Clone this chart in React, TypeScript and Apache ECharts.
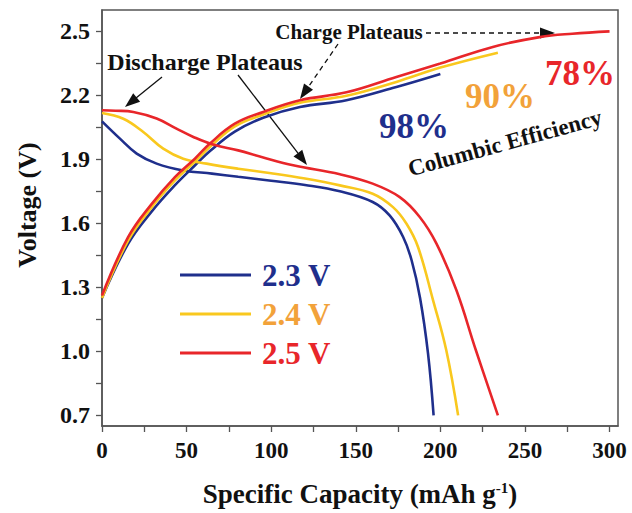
import React, { useEffect, useRef } from "react";
import * as echarts from "echarts";

const xTicks = [0, 25, 50, 75, 100, 125, 150, 175, 200, 225, 250, 275, 300];
const xLabels = [0, 50, 100, 150, 200, 250, 300];
const yTicks = [0.7, 0.85, 1.0, 1.15, 1.3, 1.45, 1.6, 1.75, 1.9, 2.05, 2.2, 2.35, 2.5];
const yLabels = [0.7, 1.0, 1.3, 1.6, 1.9, 2.2, 2.5];

const names = ["2.3 V", "2.4 V", "2.5 V"];
const lineColors = ["#1f2f8c", "#f9c81e", "#e8262a"];
const textColors = ["#1f2f8c", "#f2a23a", "#e8262a"];

const charge23 = [[0, 1.25], [15.5, 1.505], [29.3, 1.655], [43, 1.778], [55, 1.872], [64, 1.94], [78.5, 2.03], [95.3, 2.095], [117, 2.145], [144.5, 2.177], [174, 2.239], [200, 2.3]];
const charge24 = [[0, 1.25], [15.5, 1.52], [29.3, 1.675], [43, 1.8], [55, 1.89], [64, 1.96], [78.5, 2.055], [95.3, 2.11], [117, 2.165], [144.5, 2.198], [174, 2.263], [200, 2.33], [234, 2.4]];
const charge25 = [[0, 1.262], [15.5, 1.536], [29.3, 1.69], [43.1, 1.817], [54.9, 1.903], [63.8, 1.974], [78.5, 2.067], [95.3, 2.122], [117, 2.177], [144.5, 2.214], [174, 2.286], [200, 2.349], [231, 2.427], [258.7, 2.473], [278, 2.489], [300, 2.5]];

const discharge23 = [[0, 2.078], [10.6, 1.997], [20.5, 1.927], [32.3, 1.88], [48, 1.848], [65, 1.833], [80.5, 1.818], [100, 1.8], [120, 1.78], [140.6, 1.75], [160, 1.7], [170, 1.637], [178, 1.536], [183, 1.427], [188, 1.25], [192.7, 0.99], [196, 0.7]];
const discharge24 = [[0, 2.117], [12.6, 2.09], [24.4, 2.028], [36.2, 1.95], [48, 1.903], [61.8, 1.88], [80.5, 1.856], [100, 1.835], [120, 1.81], [140.6, 1.778], [160, 1.739], [172, 1.676], [180, 1.598], [186.8, 1.489], [195.7, 1.239], [203.5, 1.005], [210.5, 0.7]];
const discharge25 = [[0, 2.13], [8, 2.128], [18.5, 2.122], [32.3, 2.091], [44, 2.044], [54, 2.005], [65.7, 1.969], [80.5, 1.942], [94.3, 1.911], [113, 1.872], [140.6, 1.83], [160, 1.786], [176, 1.723], [187.8, 1.63], [197.7, 1.505], [209.5, 1.286], [221, 1.005], [234, 0.7]];

const chargeData = [charge23, charge24, charge25];
const dischargeData = [discharge23, discharge24, discharge25];

const FONT = "'Liberation Serif', 'Times New Roman', serif";

function arrow(tx: number, ty: number, px: number, py: number, dashed: boolean) {
  const dx = px - tx;
  const dy = py - ty;
  const len = Math.sqrt(dx * dx + dy * dy);
  const ux = dx / len;
  const uy = dy / len;
  const L = 15;
  const W = 5.5;
  const bx = px - ux * L;
  const by = py - uy * L;
  const nx = -uy;
  const ny = ux;
  return [
    {
      type: "line",
      shape: { x1: tx, y1: ty, x2: bx + ux * 2, y2: by + uy * 2 },
      style: { stroke: "#111", lineWidth: 1.3, lineDash: dashed ? [5, 4] : null },
    },
    {
      type: "polygon",
      shape: { points: [[px, py], [bx + nx * W, by + ny * W], [bx - nx * W, by - ny * W]] },
      style: { fill: "#111" },
    },
  ];
}

export default function App() {
  const ref = useRef<HTMLDivElement>(null);
  useEffect(() => {
    if (!ref.current) return;
    const chart = echarts.init(ref.current, null, { renderer: "svg" });
    const series: any[] = [];
    for (let i = 0; i < 3; i++) {
      for (const d of [chargeData[i], dischargeData[i]]) {
        series.push({
          name: names[i],
          type: "line",
          data: d,
          smooth: 0.4,
          showSymbol: false,
          lineStyle: { color: lineColors[i], width: 2.6 },
          itemStyle: { color: lineColors[i] },
          z: 3 + i,
        });
      }
    }
    const graphics: any[] = [
      ...arrow(162, 77, 125, 107, false),
      ...arrow(238, 75, 307, 165, false),
      ...arrow(338, 44, 300, 99, true),
      ...arrow(426, 33, 555, 33, true),
      {
        type: "text",
        x: 205,
        y: 62,
        style: { text: "Discharge Plateaus", font: `bold 24px ${FONT}`, fill: "#111", textAlign: "center", textVerticalAlign: "middle" },
      },
      {
        type: "text",
        x: 349,
        y: 32,
        style: { text: "Charge Plateaus", font: `bold 21px ${FONT}`, fill: "#111", textAlign: "center", textVerticalAlign: "middle" },
      },
      {
        type: "text",
        x: 414,
        y: 126,
        style: { text: "98%", font: `bold 35px ${FONT}`, fill: textColors[0], textAlign: "center", textVerticalAlign: "middle" },
      },
      {
        type: "text",
        x: 500,
        y: 96,
        style: { text: "90%", font: `bold 35px ${FONT}`, fill: textColors[1], textAlign: "center", textVerticalAlign: "middle" },
      },
      {
        type: "text",
        x: 580,
        y: 73,
        style: { text: "78%", font: `bold 35px ${FONT}`, fill: textColors[2], textAlign: "center", textVerticalAlign: "middle" },
      },
      {
        type: "text",
        x: 505,
        y: 143,
        rotation: 0.265,
        style: { text: "Columbic Efficiency", font: `bold 23px ${FONT}`, fill: "#111", textAlign: "center", textVerticalAlign: "middle" },
      },
    ];
    chart.setOption({
      animation: false,
      backgroundColor: "#fff",
      grid: { left: 102, top: 10, right: 14, bottom: 87, show: true, borderColor: "#555", borderWidth: 1.5 },
      legend: {
        orient: "vertical",
        left: 180,
        top: 259,
        padding: 0,
        itemWidth: 71,
        itemHeight: 3,
        itemGap: 7,
        icon: "rect",
        data: names.map((n, i) => ({ name: n, textStyle: { color: textColors[i] } })),
        textStyle: { fontFamily: FONT, fontWeight: "bold", fontSize: 31, lineHeight: 32, padding: [0, 0, 0, 6] },
      },
      xAxis: {
        type: "value",
        min: 0,
        max: 305,
        name: "{t|Specific Capacity (mAh g}{s|-1}{t|)}",
        nameLocation: "middle",
        nameGap: 54,
        nameTextStyle: {
          rich: {
            t: { fontFamily: FONT, fontWeight: "bold", fontSize: 27, color: "#111" },
            s: { fontFamily: FONT, fontWeight: "bold", fontSize: 15, color: "#111", verticalAlign: "top", padding: [0, 0, 12, 0] },
          },
        },
        axisLine: { show: true, lineStyle: { color: "#555", width: 1.5 } },
        axisTick: { show: true, inside: false, length: 6, customValues: xTicks, lineStyle: { color: "#555", width: 1.3 } },
        axisLabel: { customValues: xLabels, margin: 13, fontFamily: FONT, fontWeight: "bold", fontSize: 23, color: "#111" },
        splitLine: { show: false },
      },
      yAxis: {
        type: "value",
        min: 0.65,
        max: 2.6,
        name: "Voltage (V)",
        nameLocation: "middle",
        nameGap: 62,
        nameTextStyle: { fontFamily: FONT, fontWeight: "bold", fontSize: 26, color: "#111", padding: [0, 0, 0, 26] },
        axisLine: { show: true, lineStyle: { color: "#555", width: 1.5 } },
        axisTick: { show: true, inside: false, length: 6, customValues: yTicks, lineStyle: { color: "#555", width: 1.3 } },
        axisLabel: {
          customValues: yLabels,
          margin: 12,
          fontFamily: FONT,
          fontWeight: "bold",
          fontSize: 24,
          color: "#111",
          formatter: (v: number) => v.toFixed(1),
        },
        splitLine: { show: false },
      },
      series,
      graphic: graphics,
    });
    return () => chart.dispose();
  }, []);
  return <div ref={ref} style={{ width: 632, height: 513, position: "absolute", left: 0, top: 0 }} />;
}
